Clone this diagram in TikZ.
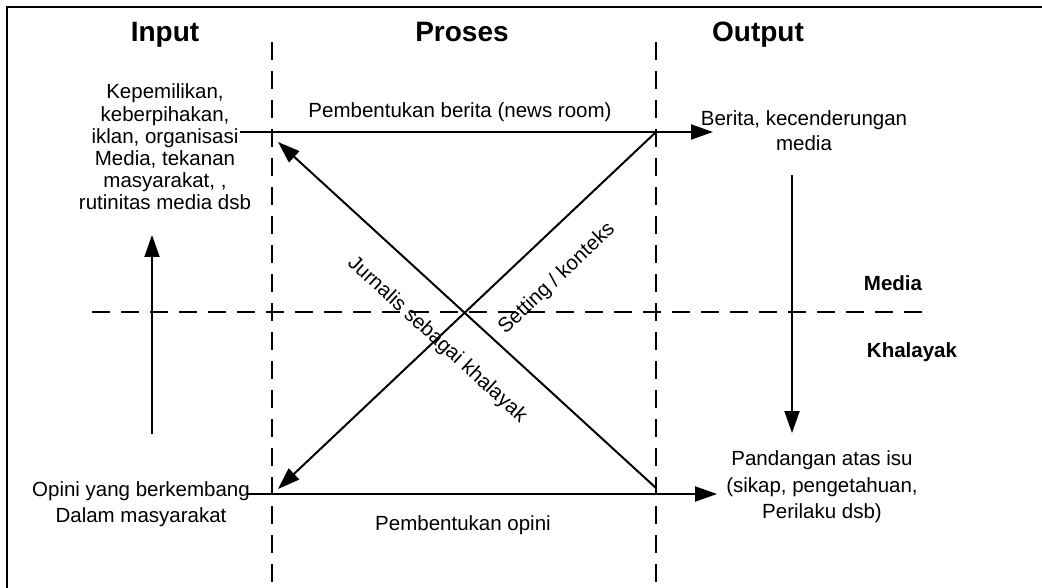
\documentclass[tikz,border=0pt]{standalone}
\usepackage{fontspec}
\setmainfont{Liberation Sans}
\usetikzlibrary{arrows.meta}
\begin{document}
\begin{tikzpicture}[x=1pt,y=-1pt,
  frameline/.style={line width=2pt},
  arr/.style={line width=2pt,-{Triangle[length=22pt,width=15pt]}},
  dashline/.style={line width=2pt,dash pattern=on 18pt off 11pt},
  hdr/.style={font=\fontsize{28}{32}\selectfont\bfseries,inner sep=0pt,anchor=base},
  txt/.style={font=\fontsize{20.5}{26.5}\selectfont,inner sep=0pt,align=center},
  bld/.style={font=\fontsize{20.5}{26}\selectfont\bfseries,inner sep=0pt}]
\useasboundingbox (0,0) rectangle (1042,588);
% frame
\draw[frameline] (7,588) -- (7,7.5) -- (1042,7.5);
% named points
\coordinate (v1t) at (272,42);
\coordinate (v1b) at (272,584);
\coordinate (v2t) at (656,42);
\coordinate (v2b) at (656,584);
\coordinate (hl) at (92,312);
\coordinate (hr) at (924,312);
\coordinate (ts) at (240,132);
\coordinate (te) at (713,132);
\coordinate (bs) at (247,494);
\coordinate (be) at (717,494);
\coordinate (d1s) at (656,132);
\coordinate (d1e) at (278,489);
\coordinate (d2s) at (656,488);
\coordinate (d2e) at (278,142);
\coordinate (us) at (152,434);
\coordinate (ue) at (152,235);
\coordinate (ds) at (792,175);
\coordinate (de) at (792,433);
% dashed lines
\draw[dashline] (v1t) -- (v1b);
\draw[dashline] (v2t) -- (v2b);
\draw[dashline] (hl) -- (hr);
% headers
\node[hdr] (hin) at (165,42) {Input};
\node[hdr] (hpr) at (462,42) {Proses};
\node[hdr] (hout) at (758,42) {Output};
% texts
\node[txt,font=\fontsize{20.5}{22.2}\selectfont] (input) at (165,147) {Kepemilikan,\\keberpihakan,\\iklan, organisasi\\Media, tekanan\\masyarakat, ,\\rutinitas media dsb};
\node[txt] (newsroom) at (460,112) {Pembentukan berita (news room)};
\node[txt,font=\fontsize{20.5}{25}\selectfont] (berita) at (804,131) {Berita, kecenderungan\\media};
\node[bld] (media) at (893,283) {Media};
\node[bld] (khal) at (912,352) {Khalayak};
\node[txt] (opini) at (141,504) {Opini yang berkembang\\Dalam masyarakat};
\node[txt] (pemop) at (463,525) {Pembentukan opini};
\node[txt,font=\fontsize{20.5}{26.5}\selectfont] (pandang) at (822,487) {Pandangan atas isu\\(sikap, pengetahuan,\\Perilaku dsb)};
\node[txt,rotate=-42.5] (jurn) at (437,340) {Jurnalis sebagai khalayak};
\node[txt,rotate=43.4] (sett) at (557,279) {Setting / konteks};
% arrows
\draw[arr] (ts) -- (te);
\draw[arr] (bs) -- (be);
\draw[arr] (d1s) -- (d1e);
\draw[arr] (d2s) -- (d2e);
\draw[arr] (us) -- (ue);
\draw[arr] (ds) -- (de);
\end{tikzpicture}
\end{document}
